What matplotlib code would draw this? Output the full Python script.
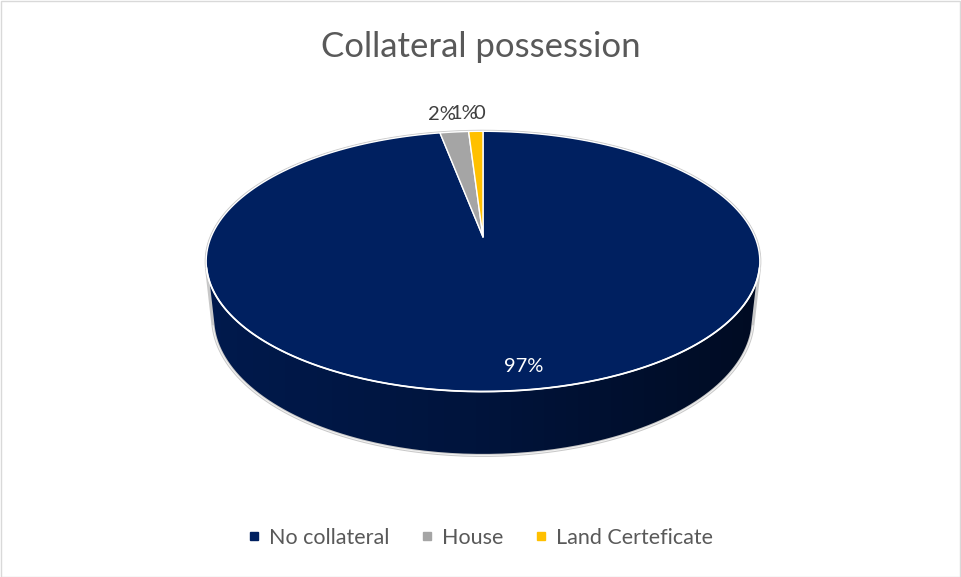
import numpy as np
import matplotlib.pyplot as plt
from matplotlib.patches import Polygon, Rectangle
from matplotlib.lines import Line2D
from matplotlib.colors import LinearSegmentedColormap, to_rgb

categories = ['No collateral', 'House', 'Land Certeficate', '']
values = [97, 2, 1, 0]
colors = ['#002060', '#A5A5A5', '#FFC000', '#5B9BD5']
title = 'Collateral possession'

plt.rcParams['font.family'] = ['Lato', 'DejaVu Sans']

W, H = 961, 577
fig = plt.figure(figsize=(W / 100, H / 100), dpi=100)
ax = fig.add_axes([0, 0, 1, 1])
ax.set_xlim(0, W)
ax.set_ylim(H, 0)
ax.axis('off')

# camera for the tilted disc (pixel space)
cx, cy = 483, 237
F = 1285.0
phi = np.radians(27.5)
Dc = 4.726
depth = 0.236
cphi, sphi = np.cos(phi), np.sin(phi)


def project(x, y, z):
    x, y, z = np.asarray(x, float), np.asarray(y, float), np.asarray(z, float)
    py = y + Dc * cphi
    pz = z - Dc * sphi
    zc = py * cphi - pz * sphi
    yc = py * sphi + pz * cphi
    return cx + F * x / zc, cy - F * yc / zc


def arc(t0, t1, r=1.0, z=0.0, n=200):
    t = np.radians(np.linspace(t0, t1, n))
    return project(r * np.sin(t), r * np.cos(t), np.full_like(t, z))


# slice angles, clockwise from 12 o'clock
total = sum(values)
bounds = np.concatenate([[0], np.cumsum(values)]) / total * 360

# visible part of the side wall (between the tangent generators)
d = Dc * cphi
t_vis = np.degrees(np.arccos(-1 / d))
vis0, vis1 = t_vis, 360 - t_vis


def shade(c, f):
    r, g, b = to_rgb(c)
    return (r * f, g * f, b * f)


for i, v in enumerate(values):
    t0, t1 = max(bounds[i], vis0), min(bounds[i + 1], vis1)
    if t1 <= t0:
        continue
    xt, yt = arc(t0, t1)
    xb, yb = arc(t1, t0, z=-depth)
    poly = Polygon(np.column_stack([np.r_[xt, xb], np.r_[yt, yb]]),
                   closed=True, facecolor='none', edgecolor='none')
    ax.add_patch(poly)
    cmap = LinearSegmentedColormap.from_list(
        'side', [shade(colors[i], 0.80), shade(colors[i], 0.62), shade(colors[i], 0.36)])
    grad = np.linspace(0, 1, 256).reshape(1, -1)
    x_all, _ = arc(vis0, vis1)
    img = ax.imshow(grad, cmap=cmap, aspect='auto',
                    extent=[x_all.min(), x_all.max(), 480, 240], zorder=1)
    img.set_clip_path(poly)

# outline of the whole disc body
xt, yt = arc(vis1 - 360, vis0)
xb, yb = arc(vis0, vis1, z=-depth)
ax.plot(np.r_[xt, xb, xt[:1]], np.r_[yt, yb, yt[:1]],
        color='#C8C8C8', lw=2.2, zorder=2, solid_joinstyle='round')
ax.plot(xb, yb, color='#F2F2F2', lw=0.8, zorder=2)

# top face wedges
for i, v in enumerate(values):
    if v == 0:
        continue
    xa, ya = arc(bounds[i], bounds[i + 1])
    px = np.r_[cx, xa]
    py = np.r_[cy, ya]
    ax.add_patch(Polygon(np.column_stack([px, py]), closed=True,
                         facecolor=colors[i], edgecolor='white', lw=1.0,
                         joinstyle='round', zorder=3))

# front seam between top face and side
xs, ys = arc(vis0, vis1)
ax.plot(xs, ys, color='white', lw=1.3, zorder=4)

# data labels
for i, v in enumerate(values):
    label = f'{v}%' if v else '0'
    mid = (bounds[i] + bounds[i + 1]) / 2
    if v >= 50:
        lx, ly = arc(mid, mid, r=0.86, n=1)
        ax.text(lx[0] + 14, ly[0] + 1, label, color='white', fontsize=14.5,
                ha='center', va='center', zorder=5)
    else:
        lx, ly = arc(mid, mid, r=1.0, n=1)
        ax.text(lx[0] + 2, ly[0] - 9, label, color='#404040', fontsize=14.5,
                ha='right', va='bottom', zorder=5)

fig.text(0.5, 1 - 47 / H, title, ha='center', va='center',
         fontsize=25, color='#595959')

handles = [Line2D([], [], marker='s', ls='none', markersize=6,
                  markerfacecolor=c, markeredgecolor=c)
           for c, n in zip(colors, categories) if n]
leg = fig.legend(handles, [n for n in categories if n], loc='center',
                 bbox_to_anchor=(0.5, 1 - 538 / H), ncol=3, frameon=False,
                 fontsize=15.5, handlelength=0.6, handletextpad=0.4,
                 columnspacing=1.45, labelcolor='#595959')

fig.add_artist(Rectangle((0.5 / W, 0.5 / H), 1 - 1.5 / W, 1 - 1.5 / H,
                         transform=fig.transFigure, fill=False,
                         edgecolor='#D9D9D9', lw=1))

fig.savefig('out.png', dpi=100)
